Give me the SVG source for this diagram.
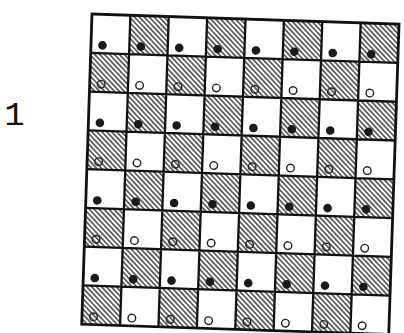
<svg xmlns="http://www.w3.org/2000/svg" xmlns:xlink="http://www.w3.org/1999/xlink" width="404" height="333" viewBox="0 0 404 333">
<style>
.grid{fill:none;stroke:#111;stroke-width:2.3}
.outer{fill:none;stroke:#111;stroke-width:2.8}
.fd{fill:#1a1a1a}
.od{fill:none;stroke:#222;stroke-width:1.4}
.lbl{font-family:"Liberation Mono",monospace;font-size:34px;fill:#111}
</style>
<defs>
<pattern id="h" width="3.6" height="10" patternUnits="userSpaceOnUse" patternTransform="rotate(-45)">
<line x1="1.8" y1="0" x2="1.8" y2="10" stroke="#222" stroke-width="1.3"/>
</pattern>
<rect id="hc" width="38.4" height="38.8" fill="url(#h)"/>
<circle id="fd" cx="11.5" cy="31" r="4.3" class="fd"/>
<circle id="od" cx="11.5" cy="31" r="3.8" class="od"/>
</defs>
<rect width="404" height="333" fill="#fff"/>
<text class="lbl" x="14.5" y="125" text-anchor="middle">1</text>
<g id="board" transform="translate(92,14) rotate(1.9)">
<g id="hatched">
<use xlink:href="#hc" x="38.4" y="0"/><use xlink:href="#hc" x="115.2" y="0"/><use xlink:href="#hc" x="192" y="0"/><use xlink:href="#hc" x="268.8" y="0"/>
<use xlink:href="#hc" x="0" y="38.8"/><use xlink:href="#hc" x="76.8" y="38.8"/><use xlink:href="#hc" x="153.6" y="38.8"/><use xlink:href="#hc" x="230.4" y="38.8"/>
<use xlink:href="#hc" x="38.4" y="77.6"/><use xlink:href="#hc" x="115.2" y="77.6"/><use xlink:href="#hc" x="192" y="77.6"/><use xlink:href="#hc" x="268.8" y="77.6"/>
<use xlink:href="#hc" x="0" y="116.4"/><use xlink:href="#hc" x="76.8" y="116.4"/><use xlink:href="#hc" x="153.6" y="116.4"/><use xlink:href="#hc" x="230.4" y="116.4"/>
<use xlink:href="#hc" x="38.4" y="155.2"/><use xlink:href="#hc" x="115.2" y="155.2"/><use xlink:href="#hc" x="192" y="155.2"/><use xlink:href="#hc" x="268.8" y="155.2"/>
<use xlink:href="#hc" x="0" y="194"/><use xlink:href="#hc" x="76.8" y="194"/><use xlink:href="#hc" x="153.6" y="194"/><use xlink:href="#hc" x="230.4" y="194"/>
<use xlink:href="#hc" x="38.4" y="232.8"/><use xlink:href="#hc" x="115.2" y="232.8"/><use xlink:href="#hc" x="192" y="232.8"/><use xlink:href="#hc" x="268.8" y="232.8"/>
<use xlink:href="#hc" x="0" y="271.6"/><use xlink:href="#hc" x="76.8" y="271.6"/><use xlink:href="#hc" x="153.6" y="271.6"/><use xlink:href="#hc" x="230.4" y="271.6"/>
</g>
<g id="lines">
<path class="grid" d="M38.4 0V310.4M76.8 0V310.4M115.2 0V310.4M153.6 0V310.4M192 0V310.4M230.4 0V310.4M268.8 0V310.4M0 38.8H307.2M0 77.6H307.2M0 116.4H307.2M0 155.2H307.2M0 194H307.2M0 232.8H307.2M0 271.6H307.2"/>
<rect class="outer" x="0" y="0" width="307.2" height="310.4"/>
</g>
<g id="filled-dots">
<use xlink:href="#fd" x="0" y="0"/><use xlink:href="#fd" x="38.4" y="0"/><use xlink:href="#fd" x="76.8" y="0"/><use xlink:href="#fd" x="115.2" y="0"/><use xlink:href="#fd" x="153.6" y="0"/><use xlink:href="#fd" x="192" y="0"/><use xlink:href="#fd" x="230.4" y="0"/><use xlink:href="#fd" x="268.8" y="0"/>
<use xlink:href="#fd" x="0" y="77.6"/><use xlink:href="#fd" x="38.4" y="77.6"/><use xlink:href="#fd" x="76.8" y="77.6"/><use xlink:href="#fd" x="115.2" y="77.6"/><use xlink:href="#fd" x="153.6" y="77.6"/><use xlink:href="#fd" x="192" y="77.6"/><use xlink:href="#fd" x="230.4" y="77.6"/><use xlink:href="#fd" x="268.8" y="77.6"/>
<use xlink:href="#fd" x="0" y="155.2"/><use xlink:href="#fd" x="38.4" y="155.2"/><use xlink:href="#fd" x="76.8" y="155.2"/><use xlink:href="#fd" x="115.2" y="155.2"/><use xlink:href="#fd" x="153.6" y="155.2"/><use xlink:href="#fd" x="192" y="155.2"/><use xlink:href="#fd" x="230.4" y="155.2"/><use xlink:href="#fd" x="268.8" y="155.2"/>
<use xlink:href="#fd" x="0" y="232.8"/><use xlink:href="#fd" x="38.4" y="232.8"/><use xlink:href="#fd" x="76.8" y="232.8"/><use xlink:href="#fd" x="115.2" y="232.8"/><use xlink:href="#fd" x="153.6" y="232.8"/><use xlink:href="#fd" x="192" y="232.8"/><use xlink:href="#fd" x="230.4" y="232.8"/><use xlink:href="#fd" x="268.8" y="232.8"/>
</g>
<g id="open-dots">
<use xlink:href="#od" x="0" y="38.8"/><use xlink:href="#od" x="38.4" y="38.8"/><use xlink:href="#od" x="76.8" y="38.8"/><use xlink:href="#od" x="115.2" y="38.8"/><use xlink:href="#od" x="153.6" y="38.8"/><use xlink:href="#od" x="192" y="38.8"/><use xlink:href="#od" x="230.4" y="38.8"/><use xlink:href="#od" x="268.8" y="38.8"/>
<use xlink:href="#od" x="0" y="116.4"/><use xlink:href="#od" x="38.4" y="116.4"/><use xlink:href="#od" x="76.8" y="116.4"/><use xlink:href="#od" x="115.2" y="116.4"/><use xlink:href="#od" x="153.6" y="116.4"/><use xlink:href="#od" x="192" y="116.4"/><use xlink:href="#od" x="230.4" y="116.4"/><use xlink:href="#od" x="268.8" y="116.4"/>
<use xlink:href="#od" x="0" y="194"/><use xlink:href="#od" x="38.4" y="194"/><use xlink:href="#od" x="76.8" y="194"/><use xlink:href="#od" x="115.2" y="194"/><use xlink:href="#od" x="153.6" y="194"/><use xlink:href="#od" x="192" y="194"/><use xlink:href="#od" x="230.4" y="194"/><use xlink:href="#od" x="268.8" y="194"/>
<use xlink:href="#od" x="0" y="271.6"/><use xlink:href="#od" x="38.4" y="271.6"/><use xlink:href="#od" x="76.8" y="271.6"/><use xlink:href="#od" x="115.2" y="271.6"/><use xlink:href="#od" x="153.6" y="271.6"/><use xlink:href="#od" x="192" y="271.6"/><use xlink:href="#od" x="230.4" y="271.6"/><use xlink:href="#od" x="268.8" y="271.6"/>
</g>
</g>
</svg>
